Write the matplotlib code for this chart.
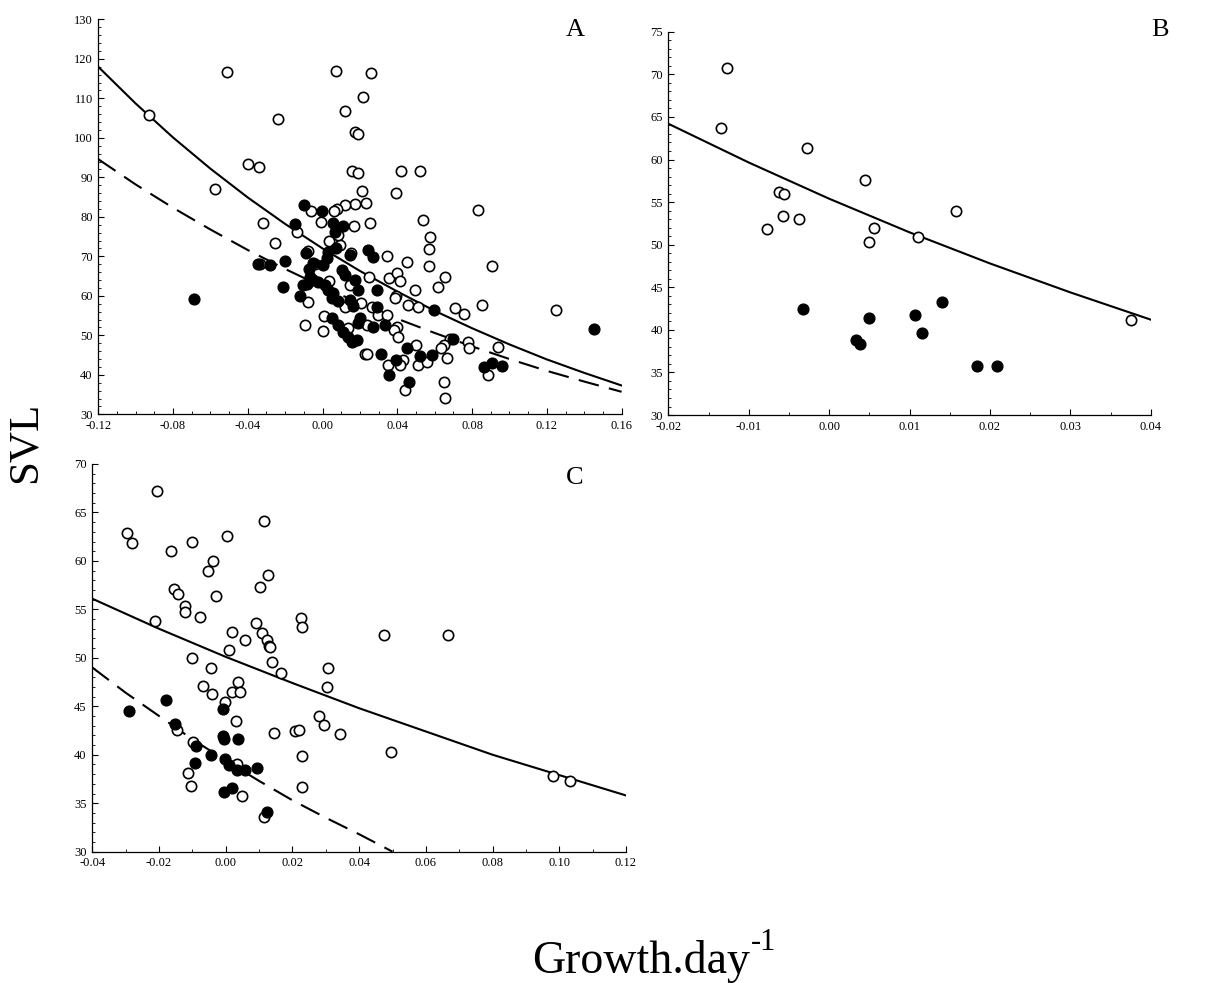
import matplotlib
matplotlib.use("Agg")
import matplotlib.pyplot as plt
from matplotlib.ticker import MultipleLocator, FormatStrFormatter

plt.rcParams['font.family'] = 'Liberation Serif'

# ---- Panel A ----
a_open_x = [-0.093, -0.051, -0.0575, -0.040, -0.034, -0.0236, -0.032, -0.0254, -0.0334, -0.0137,
            -0.0062, -0.0007, -0.0078, -0.0076, -0.0094, 0.0003, 0.0008, 0.0073, 0.0118, 0.0258,
            0.0219, 0.0171, 0.0192, 0.016, 0.0192, 0.042, 0.052, 0.021, 0.0394, 0.0832,
            0.0232, 0.0173, 0.0120, 0.0076, 0.0060, 0.0255, 0.0166, 0.054, 0.0576, 0.0567,
            0.0567, 0.0905, 0.0344, 0.0451, 0.0353, 0.0397, 0.0412, 0.0656, 0.062, 0.0495,
            0.0394, 0.0246, 0.0036, 0.0093, 0.0085, 0.0152, 0.0036, -0.0041, 0.0147, 0.0207,
            0.016, 0.0120, 0.0263, 0.0298, 0.0236, 0.0138, 0.0227, 0.0240, 0.0352, 0.0343,
            0.0387, 0.0459, 0.0512, 0.0709, 0.0757, 0.0851, 0.0397, 0.0384, 0.0405, 0.0498,
            0.0682, 0.0651, 0.0634, 0.0776, 0.0783, 0.0940, 0.0432, 0.0414, 0.0512, 0.0557,
            0.0664, 0.0441, 0.0651, 0.0655, 0.0883, 0.1249]
a_open_y = [105.7, 116.8, 87.1, 93.5, 92.5, 104.9, 78.4, 73.4, 68.1, 76.2,
            81.6, 78.6, 71.4, 58.4, 52.7, 51.2, 54.8, 116.9, 106.8, 116.5,
            110.3, 101.4, 100.9, 91.6, 91.1, 91.6, 91.6, 86.5, 86.0, 81.7,
            83.6, 83.2, 83.0, 82.1, 81.4, 78.4, 77.8, 79.1, 74.8, 71.8,
            67.6, 67.6, 70.0, 68.5, 64.6, 65.9, 63.8, 64.8, 62.2, 61.6,
            60.0, 64.7, 73.9, 72.9, 75.3, 70.8, 63.8, 68.0, 62.7, 58.1,
            57.9, 57.3, 57.3, 55.1, 52.6, 51.8, 45.4, 45.2, 42.5, 55.1,
            59.4, 57.7, 57.2, 57.0, 55.4, 57.7, 52.2, 51.3, 49.6, 47.5,
            49.2, 47.5, 46.7, 48.4, 46.7, 47.1, 43.7, 42.5, 42.5, 43.3,
            44.2, 36.2, 38.1, 34.2, 40.0, 56.4]
a_fill_x = [-0.0687, -0.0343, -0.028, -0.0201, -0.0213, -0.0148, -0.0099, -0.0005, -0.0089, -0.0121,
            -0.0103, -0.0084, -0.0067, -0.0050, -0.0023, 0.0013, 0.0031, 0.0057, -0.0053, -0.0071,
            0.0004, 0.0024, 0.0031, 0.0072, 0.0057, 0.0108, 0.0067, 0.0147, 0.0241, 0.0268,
            0.0102, 0.0120, 0.0173, 0.0191, 0.0290, 0.0084, 0.0049, 0.0147, 0.0164, 0.0290,
            0.0049, 0.0084, 0.0111, 0.0138, 0.0156, 0.0183, 0.0200, 0.0191, 0.0271, 0.0335,
            0.0313, 0.0357, 0.0391, 0.0450, 0.0462, 0.0521, 0.0584, 0.0598, 0.0699, 0.0865,
            0.0908, 0.0958, 0.1452]
a_fill_y = [59.1, 68.1, 67.9, 68.9, 62.3, 78.2, 83.0, 81.6, 70.8, 60.0,
            62.7, 63.0, 64.8, 64.0, 63.6, 62.7, 61.5, 60.6, 68.2, 66.7,
            67.8, 69.6, 71.0, 72.2, 78.4, 77.7, 76.2, 70.3, 71.6, 69.9,
            66.5, 65.3, 64.0, 61.5, 61.5, 58.7, 59.4, 58.9, 57.5, 57.2,
            54.3, 52.6, 50.9, 49.6, 48.4, 48.8, 54.3, 53.0, 52.2, 52.6,
            45.2, 40.0, 43.7, 46.7, 38.1, 44.7, 45.0, 56.4, 49.2, 42.1,
            42.9, 42.3, 51.6]
a_fit_x = [-0.12, -0.10, -0.08, -0.06, -0.04, -0.02, 0.00, 0.02, 0.04, 0.06, 0.08, 0.10, 0.12, 0.14, 0.16]
a_solid_y = [118.0, 108.7, 100.1, 92.2, 84.9, 78.2, 72.0, 66.3, 61.1, 56.2, 51.8, 47.7, 43.9, 40.5, 37.3]
a_dash_y = [94.6, 88.2, 82.3, 76.8, 71.6, 66.8, 62.3, 58.1, 54.2, 50.6, 47.2, 44.0, 41.0, 38.3, 35.7]

# ---- Panel B ----
b_open_x = [-0.0127, -0.0135, -0.0027, 0.0045, -0.0062, -0.0056, -0.0057, -0.0037, -0.0077, 0.0056,
            0.0050, 0.0111, 0.0158, 0.0376]
b_open_y = [70.7, 63.7, 61.3, 57.6, 56.2, 56.0, 53.4, 53.0, 51.8, 52.0,
            50.3, 50.9, 53.9, 41.2]
b_fill_x = [-0.0032, 0.0050, 0.0034, 0.0038, 0.0107, 0.0116, 0.0140, 0.0184, 0.0209]
b_fill_y = [42.5, 41.4, 38.8, 38.3, 41.8, 39.6, 43.3, 35.8, 35.7]
b_fit_x = [-0.02, -0.01, 0.00, 0.01, 0.02, 0.03, 0.04]
b_solid_y = [64.2, 59.65, 55.4, 51.45, 47.8, 44.4, 41.2]

# ---- Panel C ----
c_open_x = [-0.0207, -0.0296, -0.0281, -0.0164, -0.0100, 0.0005, 0.0115, -0.0037, -0.0053, 0.0128,
            -0.0154, -0.0144, -0.0029, 0.0104, -0.0121, -0.0123, -0.0078, -0.0213, 0.0092, 0.0019,
            0.0059, 0.0108, 0.0123, 0.0130, 0.0132, 0.0010, -0.0100, 0.0140, 0.0166, -0.0045,
            -0.0068, -0.0042, 0.0036, 0.0019, 0.0044, -0.0002, 0.0032, -0.0146, 0.0145, -0.0098,
            0.0034, -0.0113, -0.0103, 0.0050, 0.0115, 0.0208, 0.0220, 0.0230, 0.0228, 0.0226,
            0.0228, 0.0281, 0.0296, 0.0303, 0.0308, 0.0344, 0.0475, 0.0665, 0.0495, 0.0980,
            0.1032]
c_open_y = [67.2, 62.9, 61.8, 61.0, 62.0, 62.6, 64.1, 60.0, 59.0, 58.5,
            57.1, 56.6, 56.4, 57.3, 55.3, 54.7, 54.2, 53.8, 53.6, 52.7,
            51.8, 52.6, 51.8, 51.2, 51.1, 50.8, 50.0, 49.6, 48.4, 48.9,
            47.1, 46.3, 47.5, 46.5, 46.5, 45.4, 43.5, 42.6, 42.2, 41.3,
            39.0, 38.1, 36.8, 35.7, 33.6, 42.4, 42.6, 39.9, 36.7, 54.1,
            53.2, 44.0, 43.1, 47.0, 49.0, 42.1, 52.4, 52.4, 40.3, 37.8,
            37.3]
c_fill_x = [-0.0290, -0.0178, -0.0153, -0.0007, -0.0090, -0.0093, -0.0045, -0.0008, -0.0006, 0.0038,
            -0.0002, 0.0010, 0.0034, 0.0057, 0.0095, -0.0005, 0.0019, 0.0125]
c_fill_y = [44.5, 45.6, 43.2, 44.7, 40.9, 39.2, 40.0, 41.9, 41.6, 41.6,
            39.6, 38.9, 38.4, 38.4, 38.6, 36.2, 36.6, 34.1]
c_fit_x = [-0.04, -0.02, 0.00, 0.02, 0.04, 0.06, 0.08, 0.10, 0.12]
c_solid_y = [56.1, 53.0, 50.1, 47.4, 44.8, 42.4, 40.0, 37.9, 35.8]
c_dash_x = [-0.04, -0.03, -0.02, -0.01, 0.00, 0.01, 0.02, 0.03, 0.04, 0.05]
c_dash_y = [49.0, 46.4, 44.0, 41.6, 39.4, 37.3, 35.3, 33.5, 31.8, 30.0]

fig = plt.figure(figsize=(12.16, 9.83), dpi=100)
axA = fig.add_axes([0.0808, 0.5785, 0.4304, 0.4018])
axB = fig.add_axes([0.5496, 0.5778, 0.3967, 0.3899])
axC = fig.add_axes([0.0759, 0.1336, 0.4389, 0.3944])


def style(ax, xlim, ylim, xmaj, xmin, ymaj, ymin):
    ax.set_xlim(*xlim)
    ax.set_ylim(*ylim)
    ax.spines['top'].set_visible(False)
    ax.spines['right'].set_visible(False)
    for s in ('left', 'bottom'):
        ax.spines[s].set_linewidth(0.9)
    ax.xaxis.set_major_locator(MultipleLocator(xmaj))
    ax.xaxis.set_minor_locator(MultipleLocator(xmin))
    ax.yaxis.set_major_locator(MultipleLocator(ymaj))
    ax.yaxis.set_minor_locator(MultipleLocator(ymin))
    ax.xaxis.set_major_formatter(FormatStrFormatter('%.2f'))
    ax.yaxis.set_major_formatter(FormatStrFormatter('%d'))
    ax.tick_params(which='major', direction='in', length=4, width=0.8, labelsize=9, pad=4)
    ax.tick_params(which='minor', direction='in', length=2, width=0.6)


def scatter(ax, ox, oy, fx, fy):
    ax.scatter(ox, oy, s=55, facecolors='white', edgecolors='black', linewidths=1.2, zorder=3)
    ax.scatter(fx, fy, s=60, facecolors='black', edgecolors='black', linewidths=1.0, zorder=4)


# A
axA.plot(a_fit_x, a_solid_y, color='black', lw=1.5, zorder=2)
axA.plot(a_fit_x, a_dash_y, color='black', lw=1.5, dashes=(10, 5), zorder=2)
scatter(axA, a_open_x, a_open_y, a_fill_x, a_fill_y)
style(axA, (-0.12, 0.16), (30, 130), 0.04, 0.01, 10, 2)

# B
axB.plot(b_fit_x, b_solid_y, color='black', lw=1.5, zorder=2)
scatter(axB, b_open_x, b_open_y, b_fill_x, b_fill_y)
style(axB, (-0.02, 0.04), (30, 75), 0.01, 0.005, 5, 1)

# C
axC.plot(c_fit_x, c_solid_y, color='black', lw=1.5, zorder=2)
axC.plot(c_dash_x, c_dash_y, color='black', lw=1.5, dashes=(10, 5), zorder=2)
scatter(axC, c_open_x, c_open_y, c_fill_x, c_fill_y)
style(axC, (-0.04, 0.12), (30, 70), 0.02, 0.01, 5, 1)

# panel letters and shared labels
fig.text(575 / 1216, 1 - 30 / 983, 'A', fontsize=19, ha='center', va='center')
fig.text(1160 / 1216, 1 - 30 / 983, 'B', fontsize=19, ha='center', va='center')
fig.text(575 / 1216, 1 - 478 / 983, 'C', fontsize=19, ha='center', va='center')
fig.text(25 / 1216, 1 - 442 / 983, 'SVL', fontsize=31, rotation=90, ha='center', va='center')
fig.text(532 / 1216, 1 - 973 / 983, 'Growth.day', fontsize=33, ha='left', va='baseline')
fig.text(751 / 1216, 1 - 950 / 983, '-1', fontsize=22, ha='left', va='baseline')

fig.savefig('out.png', dpi=100)
